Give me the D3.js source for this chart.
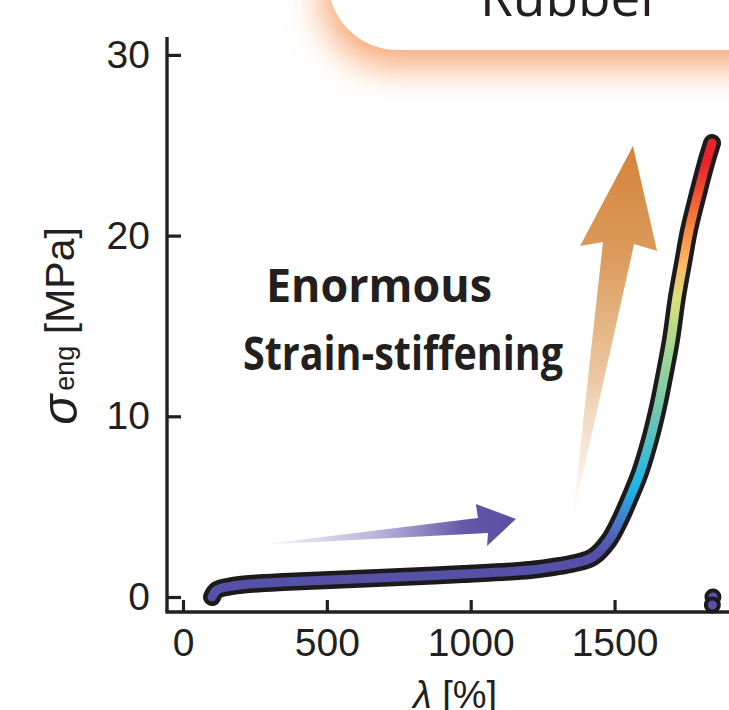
<!DOCTYPE html>
<html>
<head>
<meta charset="utf-8">
<script src="https://cdn.jsdelivr.net/npm/d3@7"></script>
<style>
html,body{margin:0;padding:0;background:#fff;}
svg{display:block;}
</style>
</head>
<body>
<svg id="chart" width="729" height="710"></svg>
<script>
// ---- data ----
const lambdaVals = [101,118,174,233,348,511,754,973,1206,1310,1380,1425,1481,1519,1550,1588,1623,1651,1672,1696,1717,1738,1759,1787,1818,1839];
const sigmaVals  = [0,0.39,0.61,0.72,0.83,0.94,1.11,1.27,1.49,1.72,1.94,2.21,3.15,4.26,5.37,6.86,8.69,10.51,12.17,14.22,16.60,18.48,20.31,22.14,24.02,25.12];
const breakLambda = [1842, 1840];
const breakSigma  = [0, -0.44];
const xTicks = [0, 500, 1000, 1500];
const yTicks = [0, 10, 20, 30];
const colorSigma = [0, 2.5, 4, 6, 10, 14, 16.5, 18.5, 20.5, 22.5, 24, 26];
const colorStops = ["#5551a8","#5551a8","#4a74c6","#1db4e8","#6cc5b2","#a9d78f","#d8df7a","#fcb862","#f7853f","#ef4d31","#e8242a","#e8242a"];
// annotation arrows (data units)
const upArrowLambda = [1564, 1648, 1568, 1352, 1460, 1380];
const upArrowSigma  = [24.96, 19.15, 19.54, 4.10, 19.65, 19.42];
const rightArrowLambda = [257, 1025, 1018, 1157, 1057, 1060];
const rightArrowSigma  = [2.88, 4.37, 5.15, 4.32, 2.82, 3.54];

const svg = d3.select("#chart");
const x = d3.scaleLinear().domain([0, 2000]).range([183, 183 + 0.2877 * 2000]);
const y = d3.scaleLinear().domain([0, 30]).range([597, 597 - 18.07 * 30]);
const ink = "#231f20";
const defs = svg.append("defs");

// ---- Rubber box with orange glow ----
const f = defs.append("filter").attr("id","glow").attr("x","-50%").attr("y","-50%").attr("width","200%").attr("height","200%");
f.append("feGaussianBlur").attr("in","SourceAlpha").attr("stdDeviation",18).attr("result","b");
f.append("feOffset").attr("in","b").attr("dx",-6).attr("dy",16).attr("result","o");
f.append("feFlood").attr("flood-color","#f7a670").attr("flood-opacity",1).attr("result","c");
f.append("feComposite").attr("in","c").attr("in2","o").attr("operator","in").attr("result","s");
const fm = f.append("feMerge");
fm.append("feMergeNode").attr("in","s");
fm.append("feMergeNode").attr("in","SourceGraphic");
svg.append("rect").attr("x",328).attr("y",-250).attr("width",700).attr("height",300)
  .attr("rx",70).attr("ry",70).attr("fill","#fff").attr("filter","url(#glow)");
svg.append("text").attr("x",571).attr("y",16).attr("text-anchor","middle")
  .attr("font-family","Open Sans").attr("font-size",53).attr("fill",ink)
  .attr("textLength",182).attr("lengthAdjust","spacingAndGlyphs").text("Rubber");

// ---- axes ----
const axisY0 = y(0) + 15;   // x-axis position
const axisX0 = x(0) - 16;   // y-axis position
const xAxis = d3.axisBottom(x).tickValues(xTicks).tickFormat(d3.format("d"))
  .tickSizeInner(-12).tickSizeOuter(0).tickPadding(16);
const gx = svg.append("g").attr("transform",`translate(0,${axisY0})`).call(xAxis);
gx.select(".domain").remove();
gx.selectAll(".tick line").attr("stroke",ink).attr("stroke-width",3.2);
gx.selectAll(".tick text").attr("font-family","Liberation Sans, Arial, sans-serif").attr("font-size",39).attr("fill",ink);
svg.append("line").attr("x1",axisX0-1.6).attr("x2",729).attr("y1",axisY0).attr("y2",axisY0).attr("stroke",ink).attr("stroke-width",3.4);

const yAxis = d3.axisLeft(y).tickValues(yTicks).tickFormat(d3.format("d"))
  .tickSizeInner(-14).tickSizeOuter(0).tickPadding(17);
const gy = svg.append("g").attr("transform",`translate(${axisX0},0)`).call(yAxis);
gy.select(".domain").remove();
gy.selectAll(".tick line").attr("stroke",ink).attr("stroke-width",3.2);
gy.selectAll(".tick text").attr("font-family","Liberation Sans, Arial, sans-serif").attr("font-size",39).attr("fill",ink);
svg.append("line").attr("x1",axisX0).attr("x2",axisX0).attr("y1",y(30)-18).attr("y2",axisY0).attr("stroke",ink).attr("stroke-width",3.4);

// axis titles
const xl = svg.append("text").attr("x",455).attr("y",708).attr("text-anchor","middle")
  .attr("font-family","Liberation Sans, Arial, sans-serif").attr("font-size",38).attr("fill",ink);
xl.append("tspan").attr("font-style","italic").text("λ");
xl.append("tspan").text(" [%]");

const yl = svg.append("text").attr("transform","translate(74,326) rotate(-90)").attr("text-anchor","middle")
  .attr("font-family","Liberation Sans, Arial, sans-serif").attr("fill",ink);
yl.append("tspan").attr("font-style","italic").attr("font-size",50).attr("dy",3).text("σ");
yl.append("tspan").attr("font-size",27).attr("dy",-3).attr("dx",4).text("eng");
yl.append("tspan").attr("font-size",41).attr("dy",0).text(" [MPa]");

// ---- annotation arrows ----
const upGrad = defs.append("linearGradient").attr("id","upg").attr("gradientUnits","userSpaceOnUse")
  .attr("x1",0).attr("x2",0).attr("y1",y(25)).attr("y2",y(4.1));
[[0,"#d4843a",1],[0.3,"#dc9c5c",1],[0.6,"#e9bf94",0.9],[0.85,"#f4d9c0",0.5],[1,"#fbeee2",0]].forEach(s=>
  upGrad.append("stop").attr("offset",s[0]).attr("stop-color",s[1]).attr("stop-opacity",s[2]));
const rGrad = defs.append("linearGradient").attr("id","rg").attr("gradientUnits","userSpaceOnUse")
  .attr("x1",x(257)).attr("x2",x(1157)).attr("y1",0).attr("y2",0);
[[0,"#5b4fa5",0],[0.45,"#6a60b0",0.45],[0.8,"#5b4fa5",0.95],[1,"#5b4fa5",1]].forEach(s=>
  rGrad.append("stop").attr("offset",s[0]).attr("stop-color",s[1]).attr("stop-opacity",s[2]));
const poly = (ls, ss) => ls.map((l,i)=>[x(l), y(ss[i])]);
const lineClosed = d3.line().curve(d3.curveLinearClosed);
svg.append("path").attr("d", lineClosed(poly(upArrowLambda, upArrowSigma))).attr("fill","url(#upg)");
svg.append("path").attr("d", lineClosed(poly(rightArrowLambda, rightArrowSigma))).attr("fill","url(#rg)");

// ---- text annotation ----
const tfont = "Open Sans, Lato, sans-serif";
svg.append("text").attr("x",379).attr("y",302).attr("text-anchor","middle").attr("font-family",tfont)
  .attr("font-weight",700).attr("font-size",46).attr("fill",ink)
  .attr("textLength",226).attr("lengthAdjust","spacingAndGlyphs").text("Enormous");
svg.append("text").attr("x",403).attr("y",370).attr("text-anchor","middle").attr("font-family",tfont)
  .attr("font-weight",700).attr("font-size",46).attr("fill",ink)
  .attr("textLength",320).attr("lengthAdjust","spacingAndGlyphs").text("Strain-stiffening");

// ---- curve ----
const cg = defs.append("linearGradient").attr("id","cg").attr("gradientUnits","userSpaceOnUse")
  .attr("x1",0).attr("x2",0).attr("y1",y(0)).attr("y2",y(26));
colorSigma.forEach((s,i)=>cg.append("stop").attr("offset",s/26).attr("stop-color",colorStops[i]));
const pts = lambdaVals.map((l,i)=>[x(l), y(sigmaVals[i])]);
const line = d3.line().curve(d3.curveCatmullRom.alpha(0.5));
svg.append("path").attr("d",line(pts)).attr("fill","none").attr("stroke","#1d1a1b")
  .attr("stroke-width",18).attr("stroke-linecap","round").attr("stroke-linejoin","round");
svg.append("path").attr("d",line(pts)).attr("fill","none").attr("stroke","url(#cg)")
  .attr("stroke-width",9).attr("stroke-linecap","round").attr("stroke-linejoin","round");

// break points
svg.selectAll("circle.brk").data(breakLambda.map((l,i)=>[l,breakSigma[i]])).join("circle")
  .attr("class","brk").attr("cx",d=>x(d[0])).attr("cy",d=>y(d[1])).attr("r",6.5)
  .attr("fill","#5d50a8").attr("stroke","#1d1a1b").attr("stroke-width",4);
</script>
</body>
</html>
